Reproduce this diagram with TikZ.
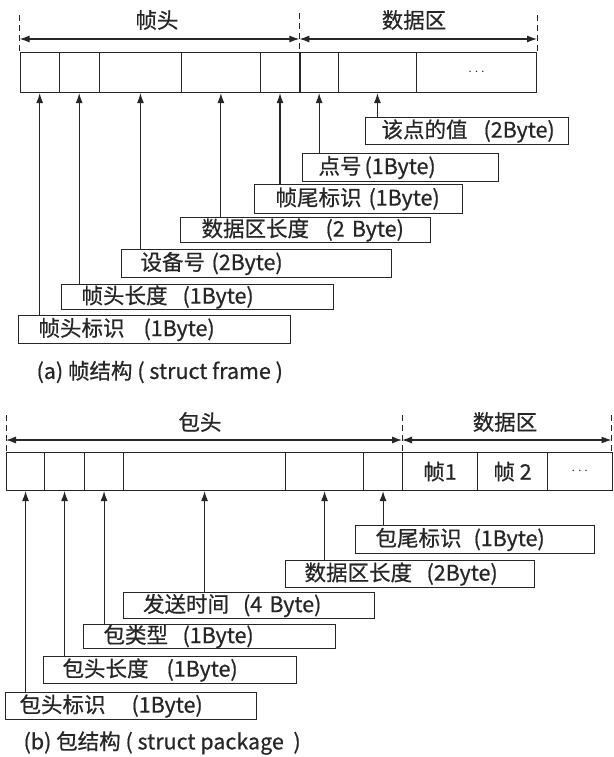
\documentclass[tikz,border=0pt]{standalone}
\usepackage{fontspec}
\setmainfont[FakeBold=0.6]{Noto Sans CJK SC}
\usetikzlibrary{arrows.meta}
\newcommand{\lbfont}{\fontsize{21.5}{24}\selectfont}
\begin{document}
\begin{tikzpicture}[x=1pt,y=-1pt,
  line width=1.1pt, color={black!85},
  cell/.style={draw, anchor=north west, inner sep=0pt, minimum height=40pt, font=\lbfont},
  cellb/.style={draw, anchor=north west, inner sep=0pt, minimum height=38pt, font=\lbfont},
  lab/.style={draw, anchor=north west, inner sep=0pt, align=left, font=\lbfont},
  arr/.style={-{Latex[length=10pt,width=7pt]}},
  dim/.style={{Latex[length=10pt,width=7pt]}-{Latex[length=10pt,width=7pt]}},
  tick/.style={dashed, dash pattern=on 6pt off 4pt, line width=0.9pt},
  ttl/.style={font=\lbfont, inner sep=0pt}]
\useasboundingbox (0,0) rectangle (613,757);
% ---------------- (a) ----------------
\node[ttl] (ta1) at (157,20) {帧头};
\node[ttl] (ta2) at (414,20) {数据区};
\coordinate (pa1) at (19.6,15);
\coordinate (pa2) at (299.4,13);
\coordinate (pa3) at (537,15);
\coordinate (qa1) at (19.6,52);
\coordinate (qa2) at (299.4,52);
\coordinate (qa3) at (537,52);
\draw[tick] (pa1) -- (qa1);
\draw[tick] (pa2) -- (qa2);
\draw[tick] (pa3) -- (qa3);
\coordinate (ma1) at (19.6,39);
\coordinate (ma2) at (299.4,39);
\coordinate (ma3) at (537,39);
\draw[dim] (ma1) -- (ma2);
\draw[dim] (ma2) -- (ma3);
\node[cell, minimum width=39.1pt] (a1) at (19.6,52) {};
\node[cell, minimum width=39.9pt] (a2) at (58.7,52) {};
\node[cell, minimum width=82.6pt] (a3) at (98.6,52) {};
\node[cell, minimum width=78.3pt] (a4) at (181.2,52) {};
\node[cell, minimum width=39.9pt] (a5) at (259.5,52) {};
\node[cell, minimum width=38.4pt] (a6) at (299.4,52) {};
\node[cell, minimum width=78.2pt] (a7) at (337.8,52) {};
\node[cell, minimum width=120pt] (a8) at (416,52) {\fontsize{14}{14}\selectfont$\cdots$};

\node[lab, text width=203pt, minimum height=27pt] (la7) at (365,117) {\hspace*{16pt}该点的值\hspace{16pt}(2Byte)};
\node[lab, text width=196pt, minimum height=28pt] (la6) at (302,153) {\hspace*{16pt}点号\hspace{3pt}(1Byte)};
\node[lab, text width=208pt, minimum height=29pt] (la5) at (254,184) {\hspace*{21pt}帧尾标识\hspace{7pt}(1Byte)};
\node[lab, text width=250pt, minimum height=25pt] (la4) at (180,217) {\hspace*{21pt}数据区长度\hspace{16.5pt}(2 Byte)};
\node[lab, text width=270pt, minimum height=28pt] (la3) at (121,249) {\hspace*{19pt}设备号\hspace{6.5pt}(2Byte)};
\node[lab, text width=272pt, minimum height=25pt] (la2) at (61,284) {\hspace*{20pt}帧头长度\hspace{15pt}(1Byte)};
\node[lab, text width=272pt, minimum height=28pt] (la1) at (18,315) {\hspace*{20pt}帧头标识\hspace{19pt}(1Byte)};

\draw[arr] (la1.north -| a1.south) -- (a1.south);
\draw[arr] (la2.north -| a2.south) -- (a2.south);
\draw[arr] (la3.north -| a3.south) -- (a3.south);
\draw[arr] (la4.north -| a4.south) -- (a4.south);
\draw[arr] (la5.north -| a5.south) -- (a5.south);
\draw[arr] (la6.north -| a6.south) -- (a6.south);
\draw[arr] (la7.north -| a7.south) -- (a7.south);

\node[ttl, anchor=west] (capa) at (36,372) {(a) 帧结构 ( struct frame )};

% ---------------- (b) ----------------
\node[ttl] (tb1) at (200,422) {包头};
\node[ttl] (tb2) at (505,422) {数据区};
\coordinate (pb1) at (6,415);
\coordinate (pb2) at (402,415);
\coordinate (pb3) at (611.5,415);
\coordinate (qb1) at (6,452);
\coordinate (qb2) at (402,452);
\coordinate (qb3) at (611.5,452);
\draw[tick] (pb1) -- (qb1);
\draw[tick] (pb2) -- (qb2);
\draw[tick] (pb3) -- (qb3);
\coordinate (mb1) at (6,440);
\coordinate (mb2) at (402,440);
\coordinate (mb3) at (611.5,440);
\draw[dim] (mb1) -- (mb2);
\draw[dim] (mb2) -- (mb3);
\node[cellb, minimum width=38pt] (b1) at (6,452) {};
\node[cellb, minimum width=40pt] (b2) at (44,452) {};
\node[cellb, minimum width=39pt] (b3) at (84,452) {};
\node[cellb, minimum width=162pt] (b4) at (123,452) {};
\node[cellb, minimum width=78pt] (b5) at (285,452) {};
\node[cellb, minimum width=39pt] (b6) at (363,452) {};
\node[cellb, minimum width=75pt] (b7) at (402,452) {帧1};
\node[cellb, minimum width=70pt] (b8) at (477,452) {帧 2};
\node[cellb, minimum width=64.5pt] (b9) at (547,452) {\fontsize{14}{14}\selectfont$\cdots$};

\node[lab, text width=239pt, minimum height=28pt] (lb6) at (355,525) {\hspace*{20pt}包尾标识\hspace{12pt}(1Byte)};
\node[lab, text width=249pt, minimum height=27pt] (lb5) at (285,560) {\hspace*{19pt}数据区长度\hspace{14.5pt}(2Byte)};
\node[lab, text width=251.5pt, minimum height=26pt] (lb4) at (122.5,592) {\hspace*{20pt}发送时间\hspace{14pt}(4 Byte)};
\node[lab, text width=252pt, minimum height=24pt] (lb3) at (83,624) {\hspace*{20pt}包类型\hspace{14.5pt}(1Byte)};
\node[lab, text width=252.5pt, minimum height=27pt] (lb2) at (43,656) {\hspace*{19pt}包头长度\hspace{18pt}(1Byte)};
\node[lab, text width=251pt, minimum height=27pt] (lb1) at (5,692) {\hspace*{14pt}包头标识\hspace{26pt}(1Byte)};

\draw[arr] (lb1.north -| b1.south) -- (b1.south);
\draw[arr] (lb2.north -| b2.south) -- (b2.south);
\draw[arr] (lb3.north -| b3.south) -- (b3.south);
\draw[arr] (lb4.north -| b4.south) -- (b4.south);
\draw[arr] (lb5.north -| b5.south) -- (b5.south);
\draw[arr] (lb6.north -| b6.south) -- (b6.south);

\node[ttl, anchor=west] (capb) at (23,743) {(b) 包结构 ( struct package \ )};
\end{tikzpicture}
\end{document}
